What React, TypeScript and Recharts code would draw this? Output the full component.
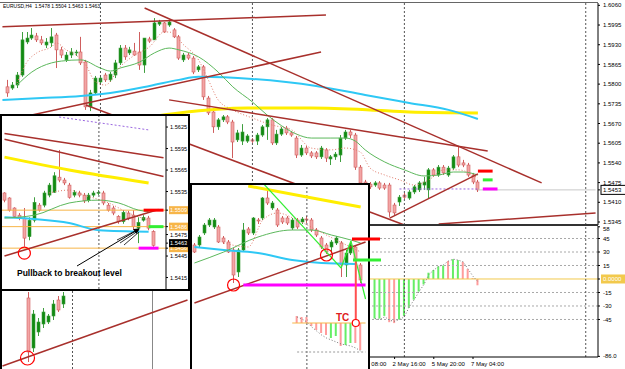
import React from "react";
import {
	Bar,
	Cell,
	ComposedChart,
	Line,
	ReferenceDot,
	ReferenceLine,
	XAxis,
	YAxis,
} from "recharts";

const FONT = "'Liberation Sans', Arial, sans-serif";

const COLORS = {
	bull: "#128a12",
	bullEdge: "#3f9f3f",
	bear: "#f3a5a5",
	bearEdge: "#cf5e5e",
	trend: "#a8302c",
	cyan: "#2ec8f5",
	yellow: "#ffee00",
	maGreen: "#5cb85c",
	maPink: "#e07a6a",
	sep: "#555555",
	histUp: "#66ee66",
	histDown: "#ff9c9c",
	zero: "#f2c94c",
	orange: "#f7b548",
};

// EURUSD H4 main chart, candle i sits in slot i + 1
const MAIN_SLOTS = 122;
const mainOpen = [
	1.5791, 1.5787, 1.5797, 1.583, 1.5939, 1.5952, 1.5959, 1.5946, 1.5929, 1.5936,
	1.5962, 1.5913, 1.588, 1.5896, 1.5903, 1.5906, 1.5873, 1.5725, 1.5771, 1.5807,
	1.583, 1.5814, 1.583, 1.587, 1.5919, 1.5903, 1.5909, 1.5906, 1.5863, 1.5949,
	1.5946, 1.5998, 1.6002, 1.5995, 1.5979, 1.5956, 1.588, 1.5896, 1.5886, 1.5847,
	1.5857, 1.5754, 1.5708, 1.5659, 1.5682, 1.5692, 1.5675, 1.5616, 1.5612, 1.5612,
	1.5616, 1.5612, 1.5632, 1.5659, 1.5682, 1.5606, 1.5635, 1.5655, 1.5639, 1.5622,
	1.5566, 1.5589, 1.5573, 1.5573, 1.556, 1.5583, 1.5553, 1.556, 1.5566, 1.5622,
	1.5642, 1.5632, 1.5526, 1.5477, 1.547, 1.5467, 1.5474, 1.5467, 1.5467, 1.5401,
	1.5411, 1.5434, 1.5424, 1.5444, 1.5451, 1.5467, 1.5451, 1.5517, 1.55, 1.5526,
	1.55, 1.5523, 1.556, 1.554, 1.5533, 1.55, 1.5477,
];
const mainHigh = [
	1.5814, 1.5807, 1.584, 1.5972, 1.5972, 1.5985, 1.5969, 1.5959, 1.5952, 1.5985,
	1.5969, 1.5923, 1.5906, 1.5919, 1.5913, 1.5956, 1.588, 1.5781, 1.5827, 1.5827,
	1.5837, 1.584, 1.588, 1.5929, 1.5929, 1.5923, 1.5936, 1.5972, 1.5952, 1.5956,
	1.6018, 1.6012, 1.6005, 1.6012, 1.5985, 1.5962, 1.5903, 1.5903, 1.5893, 1.5863,
	1.5863, 1.5761, 1.5721, 1.5688, 1.5698, 1.5698, 1.5682, 1.5649, 1.5668, 1.5635,
	1.5622, 1.5639, 1.5665, 1.5688, 1.5688, 1.5649, 1.5659, 1.5662, 1.5645, 1.5629,
	1.5599, 1.5596, 1.5579, 1.5579, 1.5596, 1.5589, 1.5566, 1.5576, 1.5632, 1.5649,
	1.5649, 1.5639, 1.5533, 1.5484, 1.5477, 1.548, 1.548, 1.5474, 1.5474, 1.5408,
	1.5434, 1.5441, 1.5451, 1.5467, 1.548, 1.5494, 1.5523, 1.5523, 1.5533, 1.5533,
	1.553, 1.5566, 1.5593, 1.555, 1.554, 1.5507, 1.5484,
];
const mainLow = [
	1.5758, 1.5781, 1.5787, 1.5824, 1.5932, 1.5946, 1.5939, 1.5929, 1.5919, 1.5923,
	1.5853, 1.5886, 1.5873, 1.5886, 1.5893, 1.5863, 1.5715, 1.5711, 1.5764, 1.58,
	1.5807, 1.5807, 1.582, 1.5863, 1.588, 1.5896, 1.5893, 1.5847, 1.5837, 1.5936,
	1.5946, 1.5992, 1.5969, 1.5989, 1.5952, 1.588, 1.5873, 1.588, 1.5833, 1.584,
	1.5748, 1.5698, 1.5639, 1.5649, 1.5675, 1.5668, 1.5556, 1.5609, 1.5599, 1.5606,
	1.5606, 1.5599, 1.5626, 1.5616, 1.5599, 1.5599, 1.5629, 1.5632, 1.5626, 1.5556,
	1.556, 1.5566, 1.5556, 1.5553, 1.5553, 1.5543, 1.5533, 1.555, 1.5543, 1.5616,
	1.5622, 1.5517, 1.5464, 1.5461, 1.5454, 1.5461, 1.5451, 1.5451, 1.5362, 1.5368,
	1.5398, 1.5421, 1.5418, 1.5437, 1.5444, 1.5451, 1.5424, 1.5494, 1.5494, 1.55,
	1.5494, 1.5517, 1.5526, 1.5526, 1.5494, 1.547, 1.5444,
];
const mainClose = [
	1.5771, 1.5797, 1.583, 1.5946, 1.5952, 1.5962, 1.5946, 1.5936, 1.5939, 1.5956,
	1.5913, 1.5896, 1.5896, 1.5906, 1.5906, 1.587, 1.5725, 1.5771, 1.582, 1.582,
	1.5814, 1.5833, 1.587, 1.5919, 1.589, 1.5913, 1.5896, 1.5863, 1.5952, 1.5942,
	1.6002, 1.6005, 1.5972, 1.6005, 1.5956, 1.5886, 1.5896, 1.5886, 1.584, 1.5857,
	1.5758, 1.5705, 1.5659, 1.5682, 1.5692, 1.5675, 1.5609, 1.5639, 1.5642, 1.5629,
	1.5612, 1.5632, 1.5659, 1.5682, 1.5606, 1.5635, 1.5652, 1.5639, 1.5632, 1.5566,
	1.5589, 1.5573, 1.5563, 1.556, 1.5589, 1.5556, 1.556, 1.5569, 1.5622, 1.5642,
	1.5632, 1.5526, 1.5474, 1.5467, 1.5461, 1.5474, 1.5457, 1.5457, 1.5378, 1.5375,
	1.5427, 1.5427, 1.5444, 1.5461, 1.5474, 1.5477, 1.5517, 1.55, 1.5526, 1.5507,
	1.5523, 1.556, 1.5533, 1.5533, 1.55, 1.5477, 1.5451,
];

// moving averages as [slot, price]
const mainMaGreen = [
	[3, 1.5797], [6, 1.584], [10, 1.587], [12, 1.5876], [16, 1.588], [20, 1.5853],
	[22, 1.5843], [24, 1.5853], [28, 1.5873], [31, 1.5903], [34, 1.5919], [36, 1.5913],
	[40, 1.589], [44, 1.584], [47, 1.5791], [51, 1.5741], [54, 1.5698], [57, 1.5662],
	[60, 1.5635], [63, 1.5622], [67, 1.5622], [70, 1.5622], [72, 1.5612], [74, 1.5583],
	[78, 1.5543], [82, 1.5517], [86, 1.5497], [89, 1.55], [92, 1.551], [94, 1.551], [97, 1.55],
];
const mainMaPink = [
	[3, 1.5804], [5, 1.5873], [7, 1.5903], [10, 1.5923], [11, 1.5936], [13, 1.5913],
	[15, 1.5896], [17, 1.5863], [19, 1.5807], [21, 1.5797], [24, 1.5857], [27, 1.5896],
	[30, 1.5923], [33, 1.5972], [34, 1.5972], [37, 1.5929], [40, 1.588], [42, 1.5814],
	[44, 1.5748], [47, 1.5715], [51, 1.5688], [55, 1.5665], [59, 1.5649], [63, 1.5589],
	[67, 1.5583], [70, 1.5589], [73, 1.5576], [75, 1.5523], [78, 1.55], [81, 1.5484],
	[84, 1.5467], [87, 1.5484], [90, 1.5517], [93, 1.5517], [97, 1.549],
];
const mainCyan = [
	[0, 1.5748], [8, 1.5754], [16, 1.5761], [22, 1.5771], [30, 1.5794], [36, 1.5814],
	[40, 1.5824], [51, 1.5817], [64, 1.5794], [74, 1.5764], [83, 1.5738], [91, 1.5715], [97, 1.5685],
];
const mainYellow = [
	[30, 1.5692], [36, 1.5705], [50, 1.5721], [63, 1.5721], [75, 1.5715], [83, 1.5708], [97, 1.5705],
];

// trend lines [slot1, price1, slot2, price2]
const mainTrend = [
	[0, 1.5989, 66, 1.6028],
	[29, 1.6051, 110, 1.5474],
	[6, 1.5698, 65, 1.5906],
	[34, 1.5748, 99, 1.5579],
	[17, 1.5731, 82, 1.5335],
	[79, 1.5358, 97, 1.5504],
	[89, 1.5338, 121, 1.5375],
];
const mainMarks = [
	[97, 100, 1.5513, "#ff0000"],
	[98, 100, 1.5484, "#33ee33"],
	[98, 101, 1.5454, "#ff00ff"],
];
const mainSeparators = [20, 51, 82, 119];
const mainTicks = [
	1.5345, 1.541, 1.5475, 1.554, 1.5605, 1.567, 1.5735, 1.58, 1.5865, 1.593, 1.5995, 1.606,
];
const mainLast = 1.5451;
const mainLastLabel = "1.5453";

// lower histogram panel, values start at slot 76
const histStart = 76;
const histValues = [
	-44, -44, -41, -48, -49, -45, -41, -32, -23, -14, -6, 7, 10, 14, 15, 20, 22, 21, 19, 11, 1, -7,
];
const histColors = "gggrrggggggggggrggrrrrr";
const histSignal = [
	-44, -45, -42, -46, -47, -45, -42, -31, -23, -14, -6, 5, 10, 14, 16, 20, 22, 21, 19, 11, 3, -3,
];
const indTicks = [-86, -45, -30, -15, 0, 15, 30, 45, 58];
const indGrid = [-45, -30, -15, 15, 30, 45];
const timeSlots = [72, 80, 88, 96];
const timeLabels = ["1 May 08:00", "2 May 16:00", "5 May 20:00", "7 May 04:00"];

// inset 1 (upper left zoom)
const INSET1_SLOTS = 33;
const in1Open = [
	1.5533, 1.5526, 1.5512, 1.5502, 1.5498, 1.5472, 1.5495, 1.5516, 1.5516, 1.553, 1.5534,
	1.5555, 1.5551, 1.5544, 1.553, 1.5533, 1.553, 1.5523, 1.553, 1.5533, 1.5533, 1.5516,
	1.5512, 1.55, 1.5493, 1.5505, 1.5502, 1.5484, 1.5495, 1.5498, 1.5479,
];
const in1High = [
	1.5534, 1.5527, 1.5513, 1.5505, 1.5512, 1.5499, 1.5527, 1.5519, 1.5536, 1.5547, 1.5562,
	1.5593, 1.5554, 1.5547, 1.5537, 1.5536, 1.5533, 1.5533, 1.5536, 1.5537, 1.5536, 1.5519,
	1.5515, 1.5502, 1.5509, 1.5508, 1.5509, 1.5499, 1.5502, 1.5501, 1.5481,
];
const in1Low = [
	1.552, 1.5507, 1.5498, 1.5495, 1.5458, 1.5467, 1.5492, 1.5507, 1.5513, 1.5527, 1.5533,
	1.5548, 1.5544, 1.5525, 1.5527, 1.5527, 1.5519, 1.552, 1.5527, 1.553, 1.5516, 1.5507,
	1.5502, 1.549, 1.549, 1.5495, 1.5481, 1.5463, 1.5493, 1.5481, 1.5458,
];
const in1Close = [
	1.5523, 1.5509, 1.55, 1.5498, 1.547, 1.5495, 1.552, 1.5509, 1.5533, 1.5544, 1.5557,
	1.5551, 1.5547, 1.5527, 1.5534, 1.553, 1.5522, 1.553, 1.5533, 1.5534, 1.5519, 1.5509,
	1.5505, 1.5493, 1.5506, 1.5498, 1.5486, 1.5492, 1.5499, 1.5484, 1.546,
];
const in1MaGreen = [[0, 1.5498], [6, 1.5502], [13, 1.5519], [19, 1.5523], [23, 1.5519], [27, 1.5509], [29, 1.5507]];
const in1MaPink = [[9, 1.5533], [13, 1.5537], [16, 1.553], [21, 1.5519], [25, 1.5505], [29, 1.5495]];
const in1Cyan = [[0, 1.5499], [13, 1.5491], [19, 1.5481], [29, 1.5479]];
const in1Yellow = [[0, 1.5583], [13, 1.5565], [29, 1.5547]];
const in1Trend = [
	[0, 1.5616, 32, 1.5582],
	[0, 1.5608, 32, 1.5556],
	[0, 1.5445, 31, 1.551],
];
const in1Levels = [1.5509, 1.5486, 1.5456];
const in1LevelLabels = ["1.5509", "1.5486", "1.5456"];
const in1Marks = [
	[28, 32, 1.5509, "#ff0000"],
	[29, 32, 1.5486, "#33ee33"],
	[27, 31, 1.5456, "#ff00ff"],
];
const in1Ticks = [1.5415, 1.5445, 1.5475, 1.5535, 1.5565, 1.5595, 1.5625];
const in1Bid = 1.5463;

// inset 2 (lower middle zoom)
const INSET2_SLOTS = 36;
const in2Open = [
	1.554, 1.554, 1.5552, 1.556, 1.5558, 1.5558, 1.5547, 1.5543, 1.5535, 1.5513, 1.5535, 1.5556,
	1.5552, 1.5565, 1.5567, 1.5587, 1.5577, 1.5575, 1.5567, 1.5567, 1.5557, 1.5565, 1.5563,
	1.5566, 1.5565, 1.5555, 1.5547, 1.554, 1.5538, 1.5542, 1.5542, 1.552, 1.5532, 1.5538, 1.552,
];
const in2High = [
	1.5542, 1.555, 1.5562, 1.5567, 1.5567, 1.556, 1.5549, 1.5545, 1.5537, 1.5537, 1.5562, 1.5558,
	1.5568, 1.5567, 1.5588, 1.5595, 1.5584, 1.5577, 1.5569, 1.5569, 1.5567, 1.5567, 1.5568,
	1.5569, 1.5567, 1.5557, 1.5549, 1.5542, 1.5545, 1.5549, 1.5544, 1.5535, 1.5542, 1.554, 1.5522,
];
const in2Low = [
	1.5532, 1.5538, 1.555, 1.5558, 1.5556, 1.5542, 1.5541, 1.5532, 1.5502, 1.5508, 1.5533, 1.555,
	1.555, 1.5561, 1.5565, 1.558, 1.5575, 1.5558, 1.5561, 1.556, 1.5555, 1.5556, 1.5561,
	1.5562, 1.5553, 1.5548, 1.5536, 1.5531, 1.5532, 1.554, 1.5508, 1.5508, 1.553, 1.5523, 1.5502,
];
const in2Close = [
	1.5533, 1.5548, 1.556, 1.5565, 1.5565, 1.5543, 1.5543, 1.5533, 1.551, 1.5535, 1.5555, 1.5552,
	1.5567, 1.5564, 1.5587, 1.5582, 1.5582, 1.556, 1.5563, 1.5562, 1.5565, 1.5558, 1.5566,
	1.5565, 1.5555, 1.555, 1.5538, 1.5533, 1.5543, 1.5547, 1.552, 1.5532, 1.554, 1.5525, 1.5505,
];
const in2MaGreen = [[0, 1.5522], [6, 1.5533], [13, 1.5548], [20, 1.5555], [24, 1.5555], [28, 1.555], [32, 1.5545], [34, 1.5542]];
const in2MaPink = [[6, 1.5542], [11, 1.5538], [14, 1.5565], [17, 1.5572], [21, 1.5565], [25, 1.5555], [29, 1.5545], [34, 1.5533]];
const in2Cyan = [[0, 1.5538], [6, 1.5535], [13, 1.5532], [20, 1.5525], [26, 1.5522], [33, 1.5521]];
const in2Yellow = [[11, 1.5599], [23, 1.5588], [34, 1.5578]];
const in2Trend = [[0, 1.5482, 35, 1.5543]];
const in2Zigzag = [
	[14, 1.5602, 30, 1.5517],
	[30, 1.5517, 32, 1.5544],
	[32, 1.5544, 35, 1.5486],
];
const in2HistStart = 21;
const in2Hist = [7, 6, 6, -3, -7, -10, -12, -15, -13, -23, -22, -20, -20, -27];
const in2HistColors = "rrrrrrrggrggrr";
const in2Signal = [6, 4, 1, -4, -8, -12, -15, -17, -19, -21, -22, -23, -25, -28];

// inset 0 (lower left, partly hidden behind inset 1), candles from slot 5
const INSET0_SLOTS = 38;
const in0Open = [1.553, 1.5505, 1.5513, 1.5517, 1.5518, 1.5521, 1.5529, 1.5527];
const in0High = [1.5533, 1.5524, 1.552, 1.5525, 1.5522, 1.5529, 1.5531, 1.5533];
const in0Low = [1.5498, 1.5503, 1.5511, 1.5515, 1.5517, 1.5519, 1.5523, 1.5525];
const in0Close = [1.5503, 1.5522, 1.5518, 1.5523, 1.5521, 1.5527, 1.5524, 1.5531];
const in0Trend = [[0, 1.5496, 37, 1.5529]];

function buildRows(slots, offset, open, high, low, close, series) {
	const rows = Array.from({ length: slots }, (_, slot) => {
		const i = slot - offset;
		const has = i >= 0 && i < open.length;
		return {
			slot,
			o: has ? open[i] : null,
			h: has ? high[i] : null,
			l: has ? low[i] : null,
			c: has ? close[i] : null,
		};
	});
	for (const key of Object.keys(series)) {
		for (const [slot, v] of series[key]) rows[slot][key] = v;
	}
	return rows;
}

const mainRows = buildRows(MAIN_SLOTS, 1, mainOpen, mainHigh, mainLow, mainClose, {
	maG: mainMaGreen,
	maP: mainMaPink,
	cyan: mainCyan,
	yel: mainYellow,
});
const in1Rows = buildRows(INSET1_SLOTS, 0, in1Open, in1High, in1Low, in1Close, {
	maG: in1MaGreen,
	maP: in1MaPink,
	cyan: in1Cyan,
	yel: in1Yellow,
});
const in2Rows = buildRows(INSET2_SLOTS, 0, in2Open, in2High, in2Low, in2Close, {
	maG: in2MaGreen,
	maP: in2MaPink,
	cyan: in2Cyan,
	yel: in2Yellow,
});
const in0Rows = buildRows(INSET0_SLOTS, 5, in0Open, in0High, in0Low, in0Close, {});

const indRows = Array.from({ length: MAIN_SLOTS }, (_, slot) => {
	const k = slot - histStart;
	const has = k >= 0 && k < histValues.length;
	return {
		slot,
		hist: has ? histValues[k] : null,
		up: has ? histColors[k] === "g" : false,
		sig: has ? histSignal[k] : null,
	};
});
const in2IndRows = Array.from({ length: INSET2_SLOTS }, (_, slot) => {
	const k = slot - in2HistStart;
	const has = k >= 0 && k < in2Hist.length;
	return {
		slot,
		hist: has ? in2Hist[k] : null,
		up: has ? in2HistColors[k] === "g" : false,
		sig: has ? in2Signal[k] : null,
	};
});

const candleRange = (d) => (d.o == null ? null : [d.l, d.h]);

function candleShape(props) {
	const { x, y, width, height, payload } = props;
	if (!payload || payload.o == null || y == null) return <g />;
	const { o, h, l, c } = payload;
	const top = Math.min(y, y + height);
	const hh = Math.abs(height);
	const span = h - l || 1;
	const py = (v) => top + ((h - v) / span) * hh;
	const cx = Math.round(x + width / 2) + 0.5;
	const up = c >= o;
	const bTop = py(Math.max(o, c));
	const bBot = py(Math.min(o, c));
	return (
		<g>
			<line
				x1={cx}
				x2={cx}
				y1={top}
				y2={top + hh}
				stroke={up ? COLORS.bullEdge : COLORS.bearEdge}
			/>
			<rect
				x={cx - 1.5}
				y={bTop}
				width={3}
				height={Math.max(1, bBot - bTop)}
				fill={up ? COLORS.bull : COLORS.bear}
				stroke={up ? COLORS.bullEdge : COLORS.bearEdge}
				strokeWidth={0.6}
			/>
		</g>
	);
}

const label = (x, y, text, size = 6, fill = "#000") => (
	<text x={x} y={y} dy={2.1} fontSize={size} fontFamily={FONT} fill={fill}>
		{text}
	</text>
);

function mainTick(p) {
	const v = p.payload.value;
	if (v === mainLast) {
		return (
			<g>
				<rect x={p.x - 2} y={p.y - 4.5} width={25} height={9} fill="#fff" stroke="#000" />
				{label(p.x, p.y, mainLastLabel)}
			</g>
		);
	}
	return label(p.x, p.y, v.toFixed(4));
}

function indTick(p) {
	const v = p.payload.value;
	if (v === 0) {
		return (
			<g>
				<rect x={p.x - 2} y={p.y - 4.5} width={25} height={9} fill={COLORS.zero} />
				{label(p.x, p.y, "0.0000", 6, "#fff")}
			</g>
		);
	}
	if (v === 58) return label(p.x, p.y + 2, "58");
	return label(p.x, p.y, v === -86 ? "-86.0" : String(v));
}

function timeTick(p) {
	const k = timeSlots.indexOf(p.payload.value);
	return (
		<text x={p.x - 2} y={p.y + 5} fontSize={6} fontFamily={FONT} fill="#000">
			{timeLabels[k]}
		</text>
	);
}

function in1Tick(p) {
	const v = p.payload.value;
	const li = in1Levels.indexOf(v);
	if (li >= 0) {
		return (
			<g>
				<rect x={p.x - 2} y={p.y - 4} width={21} height={8} fill={COLORS.orange} />
				{label(p.x - 1, p.y, in1LevelLabels[li], 5.6, "#fff")}
			</g>
		);
	}
	if (v === in1Bid) {
		return (
			<g>
				<rect x={p.x - 2} y={p.y - 4} width={21} height={8} fill="#000" />
				{label(p.x - 1, p.y, "1.5463", 5.6, "#fff")}
			</g>
		);
	}
	return label(p.x - 1, p.y, v.toFixed(4), 5.6);
}

function maLines(yAxisId = 0, pinkDash = "1 2") {
	return [
		<Line key="yel" yAxisId={yAxisId} dataKey="yel" type="monotone" connectNulls stroke={COLORS.yellow} strokeWidth={3} dot={false} isAnimationActive={false} />,
		<Line key="cyan" yAxisId={yAxisId} dataKey="cyan" type="monotone" connectNulls stroke={COLORS.cyan} strokeWidth={2} dot={false} isAnimationActive={false} />,
		<Line key="maG" yAxisId={yAxisId} dataKey="maG" type="monotone" connectNulls stroke={COLORS.maGreen} strokeWidth={1} dot={false} isAnimationActive={false} />,
		<Line key="maP" yAxisId={yAxisId} dataKey="maP" type="monotone" connectNulls stroke={COLORS.maPink} strokeWidth={1} strokeDasharray={pinkDash} dot={false} isAnimationActive={false} />,
	];
}

function segments(list, color, width, yAxisId = 0, prefix = "t") {
	return list.map(([x1, y1, x2, y2], i) => (
		<ReferenceLine
			key={`${prefix}${i}`}
			yAxisId={yAxisId}
			segment={[
				{ x: x1, y: y1 },
				{ x: x2, y: y2 },
			]}
			stroke={color}
			strokeWidth={width}
			ifOverflow="hidden"
		/>
	));
}

function marks(list, yAxisId = 0, prefix = "m") {
	return list.map(([x1, x2, y, color], i) => (
		<ReferenceLine
			key={`${prefix}${i}`}
			yAxisId={yAxisId}
			segment={[
				{ x: x1, y },
				{ x: x2, y },
			]}
			stroke={color}
			strokeWidth={3}
			ifOverflow="hidden"
		/>
	));
}

function MainPrice() {
	return (
		<ComposedChart width={625} height={222} data={mainRows} margin={{ top: 0, right: 0, bottom: 0, left: 0 }} barCategoryGap={0}>
			<XAxis dataKey="slot" hide />
			<YAxis
				orientation="right"
				width={27}
				domain={[1.53351, 1.60677]}
				allowDataOverflow
				ticks={[...mainTicks, mainLast].sort((a, b) => a - b)}
				interval={0}
				tick={mainTick}
				tickSize={2}
				tickMargin={3}
				axisLine={{ stroke: "#000" }}
				tickLine={{ stroke: "#000" }}
			/>
			{mainSeparators.map((s) => (
				<ReferenceLine key={`s${s}`} x={s} stroke={COLORS.sep} strokeDasharray="2 2" />
			))}
			<ReferenceLine segment={[{ x: 81, y: 1.5454 }, { x: 97, y: 1.5454 }]} stroke="#9a66e0" strokeDasharray="2 2" ifOverflow="hidden" />
			<ReferenceLine segment={[{ x: 97, y: mainLast }, { x: 121, y: mainLast }]} stroke="#c8c8c8" ifOverflow="hidden" />
			{maLines()}
			<Bar dataKey={candleRange} shape={candleShape} barSize={4} isAnimationActive={false} />
			{segments(mainTrend, COLORS.trend, 1.5)}
			{marks(mainMarks)}
		</ComposedChart>
	);
}

function MainIndicator() {
	return (
		<ComposedChart width={625} height={143} data={indRows} margin={{ top: 0, right: 0, bottom: 0, left: 0 }} barCategoryGap={0}>
			<XAxis
				dataKey="slot"
				ticks={timeSlots}
				interval={0}
				tick={timeTick}
				height={12}
				tickSize={2}
				axisLine={{ stroke: "#000" }}
				tickLine={{ stroke: "#000" }}
			/>
			<YAxis
				orientation="right"
				width={27}
				domain={[-86.7, 58.9]}
				allowDataOverflow
				ticks={indTicks}
				interval={0}
				tick={indTick}
				tickSize={2}
				tickMargin={3}
				axisLine={{ stroke: "#000" }}
				tickLine={{ stroke: "#000" }}
			/>
			{indGrid.map((g) => (
				<ReferenceLine key={`g${g}`} y={g} stroke="#a8a8a8" strokeDasharray="2 2" />
			))}
			<ReferenceLine y={0} stroke={COLORS.zero} />
			{mainSeparators.map((s) => (
				<ReferenceLine key={`s${s}`} x={s} stroke={COLORS.sep} strokeDasharray="2 2" />
			))}
			<Bar dataKey="hist" barSize={2} isAnimationActive={false}>
				{indRows.map((r) => (
					<Cell key={r.slot} fill={r.up ? COLORS.histUp : COLORS.histDown} />
				))}
			</Bar>
			<Line dataKey="sig" stroke="#777" strokeDasharray="1 2" dot={false} isAnimationActive={false} />
		</ComposedChart>
	);
}

function Inset0() {
	return (
		<ComposedChart width={190} height={78} data={in0Rows} margin={{ top: 0, right: 0, bottom: 0, left: 0 }} barCategoryGap={0}>
			<XAxis dataKey="slot" hide />
			<YAxis hide domain={[1.54945, 1.55335]} allowDataOverflow />
			<ReferenceLine x={30} stroke="#888" />
			<ReferenceLine x={14} stroke={COLORS.sep} strokeDasharray="2 2" />
			<Bar dataKey={candleRange} shape={candleShape} barSize={4} isAnimationActive={false} />
			{segments(in0Trend, COLORS.trend, 1.5)}
			<ReferenceDot x={5} y={1.55} r={7} fill="none" stroke="#ff0000" strokeWidth={1.2} />
		</ComposedChart>
	);
}

function Inset1() {
	return (
		<ComposedChart width={186} height={173} data={in1Rows} margin={{ top: 0, right: 0, bottom: 0, left: 0 }} barCategoryGap={0}>
			<XAxis dataKey="slot" hide />
			<YAxis
				orientation="right"
				width={22}
				domain={[1.5399, 1.56404]}
				allowDataOverflow
				ticks={[...in1Ticks, ...in1Levels, in1Bid].sort((a, b) => a - b)}
				interval={0}
				tick={in1Tick}
				tickSize={2}
				tickMargin={3}
				axisLine={{ stroke: "#000" }}
				tickLine={{ stroke: "#000" }}
			/>
			<ReferenceLine x={19} stroke={COLORS.sep} strokeDasharray="2 2" />
			{in1Levels.map((v) => (
				<ReferenceLine key={`l${v}`} y={v} stroke={COLORS.orange} />
			))}
			<ReferenceLine segment={[{ x: 11, y: 1.5639 }, { x: 29, y: 1.5621 }]} stroke="#9a66e0" strokeDasharray="2 2" ifOverflow="hidden" />
			{maLines()}
			<Bar dataKey={candleRange} shape={candleShape} barSize={4} isAnimationActive={false} />
			{segments(in1Trend, COLORS.trend, 1.5)}
			{marks(in1Marks)}
			<ReferenceDot x={4} y={1.5449} r={6} fill="none" stroke="#ff0000" strokeWidth={1.2} />
		</ComposedChart>
	);
}

function Inset2Price() {
	return (
		<ComposedChart width={176} height={184} data={in2Rows} margin={{ top: 0, right: 0, bottom: 0, left: 0 }} barCategoryGap={0}>
			<XAxis dataKey="slot" hide />
			<YAxis hide domain={[1.5416, 1.56]} allowDataOverflow />
			<ReferenceLine x={23} stroke={COLORS.sep} strokeDasharray="2 2" />
			{maLines()}
			<Bar dataKey={candleRange} shape={candleShape} barSize={4} isAnimationActive={false} />
			{segments(in2Trend, COLORS.trend, 1.5)}
			{segments(in2Zigzag, "#33ee33", 1.2, 0, "z")}
			{marks([[10, 35, 1.55, "#ff00ff"]])}
			<ReferenceDot x={8} y={1.55} r={6} fill="none" stroke="#ff0000" strokeWidth={1.2} />
			<ReferenceDot x={27} y={1.553} r={6} fill="none" stroke="#ff0000" strokeWidth={1.2} />
		</ComposedChart>
	);
}

function Inset2Indicator() {
	return (
		<ComposedChart width={176} height={184} data={in2IndRows} margin={{ top: 0, right: 0, bottom: 0, left: 0 }} barCategoryGap={0}>
			<XAxis dataKey="slot" hide />
			<YAxis hide domain={[-46, 138]} allowDataOverflow />
			<ReferenceLine segment={[{ x: 20, y: 0 }, { x: 35, y: 0 }]} stroke={COLORS.orange} ifOverflow="hidden" />
			<ReferenceLine segment={[{ x: 21, y: -29 }, { x: 35, y: -29 }]} stroke="#999" strokeDasharray="2 2" ifOverflow="hidden" />
			<Bar dataKey="hist" barSize={2} isAnimationActive={false}>
				{in2IndRows.map((r) => (
					<Cell key={r.slot} fill={r.up ? COLORS.histUp : COLORS.histDown} />
				))}
			</Bar>
			<Line dataKey="sig" stroke="#777" strokeDasharray="1 2" dot={false} isAnimationActive={false} />
			<ReferenceLine segment={[{ x: 33, y: 62 }, { x: 33, y: 0 }]} stroke="#ff5050" strokeWidth={2} ifOverflow="hidden" />
			<ReferenceDot x={33} y={0} r={3.5} fill="#fff" stroke="#ff0000" strokeWidth={1.2} />
		</ComposedChart>
	);
}

const abs = (left, top, extra = {}) => ({ position: "absolute", left, top, ...extra });

export default function App() {
	return (
		<div style={abs(0, 0, { width: 625, height: 369, background: "#fff", overflow: "hidden" })}>
			<div style={abs(0, 3)}>
				<MainPrice />
			</div>
			<div style={abs(0, 226)}>
				<MainIndicator />
			</div>
			<div style={abs(0, 2, { width: 598, height: 1, background: "#666" })} />
			<div style={abs(0, 224, { width: 598, height: 2, background: "#333" })} />
			<div style={abs(3, 3, { fontFamily: FONT, fontSize: 5, color: "#000", whiteSpace: "pre" })}>
				EURUSD,H4  1.5478 1.5504 1.5463 1.5463
			</div>

			<div style={abs(0, 289, { width: 190, height: 82, background: "#fff", borderLeft: "2px solid #000", boxSizing: "border-box", overflow: "hidden" })}>
				<div style={abs(-2, 2)}>
					<Inset0 />
				</div>
			</div>

			<div style={abs(0, 114, { width: 190, height: 177, border: "2px solid #000", boxSizing: "border-box", background: "#fff", overflow: "hidden" })}>
				<Inset1 />
			</div>

			<div style={abs(190, 183, { width: 180, height: 190, borderLeft: "2px solid #000", borderTop: "2px solid #000", borderRight: "2px solid #000", boxSizing: "border-box", background: "#fff", overflow: "hidden" })}>
				<div style={abs(0, 0)}>
					<Inset2Price />
				</div>
				<div style={abs(0, 0)}>
					<Inset2Indicator />
				</div>
			</div>

			<svg width={625} height={369} style={abs(0, 0, { pointerEvents: "none" })}>
				<defs>
					<marker id="ah" markerWidth="6" markerHeight="6" refX="5" refY="3" orient="auto">
						<path d="M0,0 L6,3 L0,6 z" fill="#000" />
					</marker>
				</defs>
				<line x1={77} y1={266} x2={139} y2={229} stroke="#000" markerEnd="url(#ah)" />
				<line x1={117} y1={240} x2={137} y2={230} stroke="#000" strokeWidth={0.8} />
				<line x1={120} y1={243} x2={138} y2={231} stroke="#000" strokeWidth={0.8} />
				<line x1={124} y1={245} x2={139} y2={232} stroke="#000" strokeWidth={0.8} />
				<text x={17} y={276} fontFamily={FONT} fontWeight="bold" fontSize={8.5} fill="#000">
					Pullback to breakout level
				</text>
				<line x1={352} y1={239} x2={380} y2={239} stroke="#ff0000" strokeWidth={3} />
				<line x1={353} y1={260} x2={381} y2={260} stroke="#33ee33" strokeWidth={3} />
				<text x={336} y={321} fontFamily={FONT} fontWeight="bold" fontSize={10} fill="#e02020">
					TC
				</text>
			</svg>
		</div>
	);
}
